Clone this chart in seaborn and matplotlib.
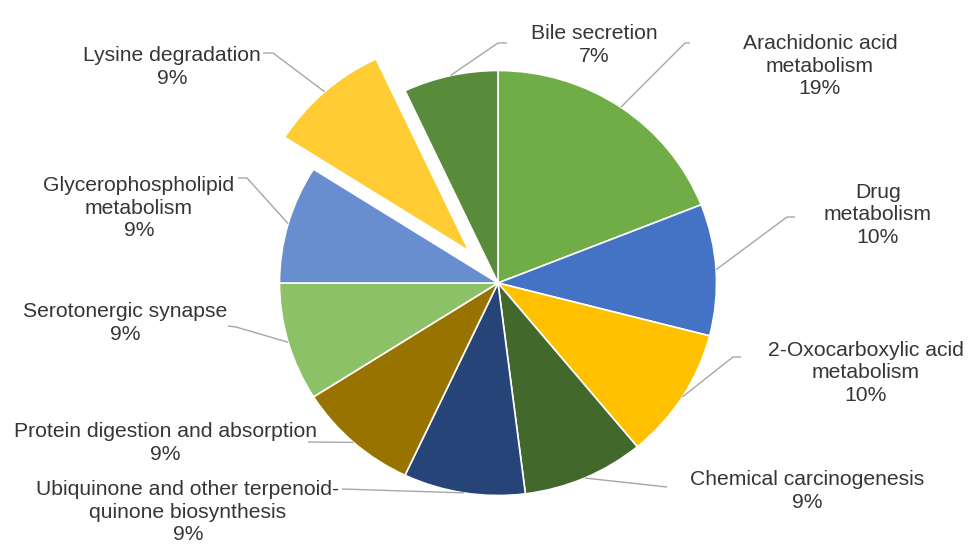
import numpy as np
import matplotlib
matplotlib.use("Agg")
import matplotlib.pyplot as plt
import seaborn as sns

# Pathway shares, clockwise from 12 o'clock
pathways = [
    "Arachidonic acid\nmetabolism",
    "Drug\nmetabolism",
    "2-Oxocarboxylic acid\nmetabolism",
    "Chemical carcinogenesis",
    "Ubiquinone and other terpenoid-\nquinone biosynthesis",
    "Protein digestion and absorption",
    "Serotonergic synapse",
    "Glycerophospholipid\nmetabolism",
    "Lysine degradation",
    "Bile secretion",
]
shares = [19, 10, 10, 9, 9, 9, 9, 9, 9, 7]
slice_colors = [
    "#70AD47", "#4472C4", "#FFC000", "#43682B", "#264478",
    "#997300", "#8CC168", "#698ED0", "#FFCD33", "#588C3A",
]
highlight = "Lysine degradation"

sns.set_theme(style="white")
plt.rcParams["font.family"] = ["Liberation Sans", "DejaVu Sans"]

W, H = 971, 545
fig = plt.figure(figsize=(W / 100, H / 100), dpi=100)
ax = fig.add_axes([0, 0, 1, 1])

# canvas geometry (pixels): pie centre and radii
cx, cy, rx, ry = 498, 283, 218.5, 212.5


def to_data(px, py):
    return (px - cx) / rx, (cy - py) / ry


explode = [0.2 if p == highlight else 0.0 for p in pathways]
wedges, _ = ax.pie(
    shares,
    colors=slice_colors,
    startangle=90,
    counterclock=False,
    explode=explode,
    wedgeprops=dict(edgecolor="white", linewidth=1.2),
)
ax.set_aspect("auto")
ax.set_xlim((0 - cx) / rx, (W - cx) / rx)
ax.set_ylim((cy - H) / ry, cy / ry)
ax.axis("off")

# label block centres and leader-line label-side points (pixels)
label_pos = [
    (820, 66), (878, 215), (866, 373), (807, 491), (188, 512),
    (165, 443), (125, 323), (139, 208), (172, 67), (594, 45),
]
leader_pts = [
    [(690, 43), (685, 43)],
    [(795, 217), (787, 217)],
    [(741, 357), (733, 357)],
    [(667, 487)],
    [(342, 489)],
    [(308, 442)],
    [(228, 326), (236, 327)],
    [(238, 178), (247, 178)],
    [(263, 53), (273, 53)],
    [(507, 43), (498, 43)],
]

line_color = "#A6A6A6"
text_color = "#363636"

for w, name, v, (lx, ly), pts in zip(wedges, pathways, shares, label_pos, leader_pts):
    mid = np.deg2rad((w.theta1 + w.theta2) / 2)
    ox, oy = w.center
    ax_x = ox + w.r * np.cos(mid)
    ax_y = oy + w.r * np.sin(mid)
    xs = [to_data(*p)[0] for p in pts] + [ax_x]
    ys = [to_data(*p)[1] for p in pts] + [ax_y]
    ax.plot(xs, ys, color=line_color, lw=1.0, solid_capstyle="butt", zorder=1)
    tx, ty = to_data(lx, ly)
    ax.text(tx, ty, f"{name}\n{v}%", ha="center", va="center",
            fontsize=15.2, color=text_color, linespacing=1.26, zorder=3)

fig.savefig("out.png", dpi=100, facecolor="white")
